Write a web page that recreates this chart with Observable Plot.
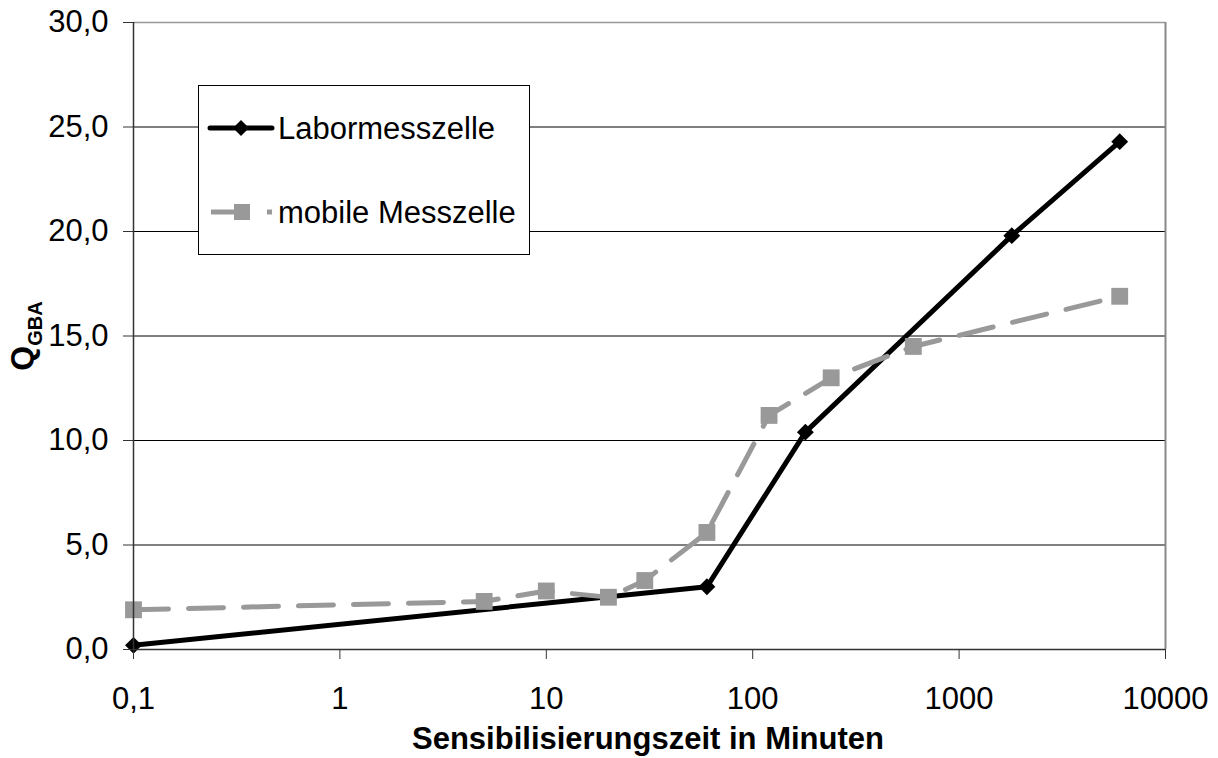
<!DOCTYPE html>
<html><head><meta charset="utf-8">
<script src="https://cdn.jsdelivr.net/npm/d3@7"></script>
<script src="https://cdn.jsdelivr.net/npm/@observablehq/plot@0.6"></script>
<style>
body{margin:0;background:#fff;}
svg{font-family:"Liberation Sans",Arial,sans-serif;}
</style>
</head><body><div id="chart"></div>
<script>
const seriesNames = ["Labormesszelle", "mobile Messzelle"];
const laborX = [0.1, 60, 180, 1800, 6000];
const laborY = [0.2, 3.0, 10.4, 19.8, 24.3];
const mobileX = [0.1, 5, 10, 20, 30, 60, 120, 240, 600, 6000];
const mobileY = [1.9, 2.3, 2.8, 2.5, 3.3, 5.6, 11.2, 13.0, 14.5, 16.9];
const xTicks = [0.1, 1, 10, 100, 1000, 10000];
const xTickLabels = ["0,1", "1", "10", "100", "1000", "10000"];
const yTicks = [0, 5, 10, 15, 20, 25, 30];
const yTickLabels = ["0,0", "5,0", "10,0", "15,0", "20,0", "25,0", "30,0"];
const xTitle = "Sensibilisierungszeit in Minuten";
const yTitleMain = "Q";
const yTitleSub = "GBA";

const labor = laborX.map((x, i) => ({x, y: laborY[i]}));
const mobile = mobileX.map((x, i) => ({x, y: mobileY[i]}));

const chart = Plot.plot({
  width: 1218, height: 758,
  marginLeft: 133, marginRight: 53, marginTop: 22, marginBottom: 109,
  style: {fontFamily: "Liberation Sans, Arial, sans-serif", fontSize: "31px", color: "#000", background: "#fff"},
  x: {type: "log", domain: [0.1, 10000], label: null},
  y: {domain: [0, 30], label: null},
  marks: [
    Plot.ruleY(yTicks.filter(d => d > 0 && d < 30), {stroke: "#000", strokeWidth: 1}),
    Plot.ruleY([30], {stroke: "#999", strokeWidth: 1.5}),
    Plot.ruleX([10000], {stroke: "#888", strokeWidth: 2}),
    Plot.line(labor, {x: "x", y: "y", stroke: "#000", strokeWidth: 5}),
    Plot.line(mobile, {x: "x", y: "y", stroke: "#999", strokeWidth: 5, strokeDasharray: "35,20"}),
    Plot.dot(mobile, {x: "x", y: "y", symbol: "square", r: 9.5, fill: "#999", stroke: null}),
    Plot.dot(labor, {x: "x", y: "y", symbol: "diamond2", r: 7.6, fill: "#000", stroke: null}),
    Plot.ruleY([0], {stroke: "#333", strokeWidth: 1.5}),
    Plot.ruleX([0.1], {stroke: "#333", strokeWidth: 1.5}),
    Plot.axisX({ticks: xTicks, tickFormat: d => xTickLabels[xTicks.indexOf(d)], tickSize: 10, tickPadding: 27, label: null, stroke: "#333"}),
    Plot.axisY({ticks: yTicks, tickFormat: d => yTickLabels[yTicks.indexOf(d)], tickSize: 10, tickPadding: 15, label: null, stroke: "#333"})
  ]
});
document.getElementById("chart").appendChild(chart);

const svg = d3.select(chart);
// axis titles
svg.append("text")
  .attr("x", 648).attr("y", 749)
  .attr("text-anchor", "middle")
  .attr("font-size", 31).attr("font-weight", "bold").attr("fill", "#000")
  .text(xTitle);
const yt = svg.append("text")
  .attr("transform", "translate(33,336) rotate(-90)")
  .attr("text-anchor", "middle")
  .attr("font-size", 32).attr("font-weight", "bold").attr("fill", "#000");
yt.append("tspan").text(yTitleMain);
yt.append("tspan").attr("font-size", 20).attr("dy", 9).text(yTitleSub);

// legend
const lg = svg.append("g").attr("text-anchor", "start");
lg.append("rect").attr("x", 198.5).attr("y", 85.5).attr("width", 331).attr("height", 169)
  .attr("fill", "#fff").attr("stroke", "#000").attr("stroke-width", 1);
// row 1
lg.append("line").attr("x1", 210).attr("x2", 272).attr("y1", 128).attr("y2", 128)
  .attr("stroke", "#000").attr("stroke-width", 5).attr("stroke-linecap", "round");
lg.append("path").attr("transform", "translate(241,128)")
  .attr("d", d3.symbol(d3.symbolDiamond2, Math.PI * 7.2 * 7.2)()).attr("fill", "#000");
lg.append("text").attr("x", 278).attr("y", 139).attr("text-anchor", "start")
  .attr("font-size", 31).attr("fill", "#000").text(seriesNames[0]);
// row 2
lg.append("line").attr("x1", 211).attr("x2", 272).attr("y1", 212).attr("y2", 212)
  .attr("stroke", "#999").attr("stroke-width", 5).attr("stroke-dasharray", "26,30,5,100");
lg.append("path").attr("transform", "translate(242,212)")
  .attr("d", d3.symbol(d3.symbolSquare, 16 * 16)()).attr("fill", "#999");
lg.append("text").attr("x", 278).attr("y", 223).attr("text-anchor", "start")
  .attr("font-size", 31).attr("fill", "#000").text(seriesNames[1]);
</script>
</body></html>
